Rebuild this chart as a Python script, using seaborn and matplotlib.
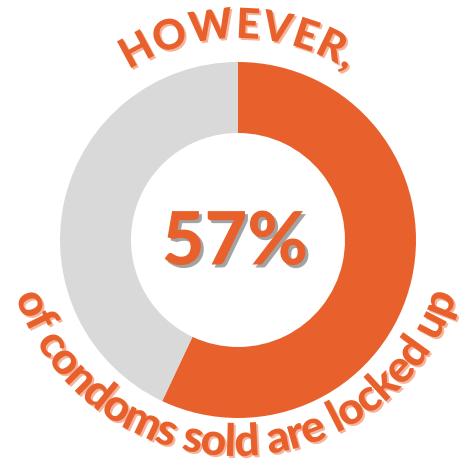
import numpy as np
import matplotlib

matplotlib.use("Agg")

import matplotlib.pyplot as plt
import matplotlib.patheffects as pe
import seaborn as sns
from matplotlib.font_manager import FontProperties

# Data
shares = [57, 43]
share_labels = ["locked up", "not locked up"]
headline = "HOWEVER,"
big_number = "57%"
caption = "of condoms sold are locked up"

ORANGE = "#E8612C"
RING_GRAY = "#D9D9D9"
NUM_SHADOW = "#A3A3A3"
TEXT_SHADOW = "#F6B49C"

sns.set_theme(style="white")
plt.rcParams["font.family"] = ["Lato", "DejaVu Sans"]

W, H = 460, 465
fig = plt.figure(figsize=(W / 100, H / 100), dpi=100)
ax = fig.add_axes([0, 0, 1, 1])

cx, cy = 238, H - 240
r_out, ring_w = 178, 71

ax.pie(
    shares,
    colors=[ORANGE, RING_GRAY],
    startangle=90,
    counterclock=False,
    center=(cx, cy),
    radius=r_out,
    wedgeprops=dict(width=ring_w, linewidth=0),
    frame=True,
)
ax.set_xlim(0, W)
ax.set_ylim(0, H)
ax.set_aspect("equal")
ax.axis("off")

renderer = fig.canvas.get_renderer()
px = 72 / 100  # points per pixel


def advances(s, fp, track):
    base = renderer.get_text_width_height_descent("|", fp, ismath=False)[0]
    out = [0.0]
    for i in range(1, len(s) + 1):
        w = renderer.get_text_width_height_descent(s[:i] + "|", fp, ismath=False)[0]
        out.append(w - base + track * i)
    return out


def arc_text(s, center, radius, size, top=True, track=0.0):
    ox, oy = center
    fp = FontProperties(family="Lato", weight="black", size=size)
    adv = advances(s, fp, track)
    total = adv[-1] - track
    shadow = [pe.withSimplePatchShadow(offset=(2 * px, -2 * px),
                                       shadow_rgbFace=TEXT_SHADOW, alpha=1)]
    for i, ch in enumerate(s):
        if ch == " ":
            continue
        mid = (adv[i] + adv[i + 1] - track) / 2 - total / 2
        a = mid / radius
        if top:
            x, y = ox + radius * np.sin(a), oy + radius * np.cos(a)
            rot = -np.degrees(a)
        else:
            x, y = ox + radius * np.sin(a), oy - radius * np.cos(a)
            rot = np.degrees(a)
        ax.text(x, y, ch, fontproperties=fp, color=ORANGE,
                ha="center", va="baseline", rotation=rot,
                rotation_mode="anchor", path_effects=shadow)


arc_text(headline, (cx, cy), 202, 30, top=True, track=1.0)
arc_text(caption, (cx - 2, H - 224), 232, 32, top=False, track=-0.8)

ax.text(cx - 3, cy - 3, big_number, color=ORANGE, fontsize=53,
        fontweight="black", family="Lato", ha="center", va="center",
        path_effects=[pe.withSimplePatchShadow(offset=(3 * px, -3 * px),
                                               shadow_rgbFace=NUM_SHADOW, alpha=1)])

fig.savefig("out.png", dpi=100)
